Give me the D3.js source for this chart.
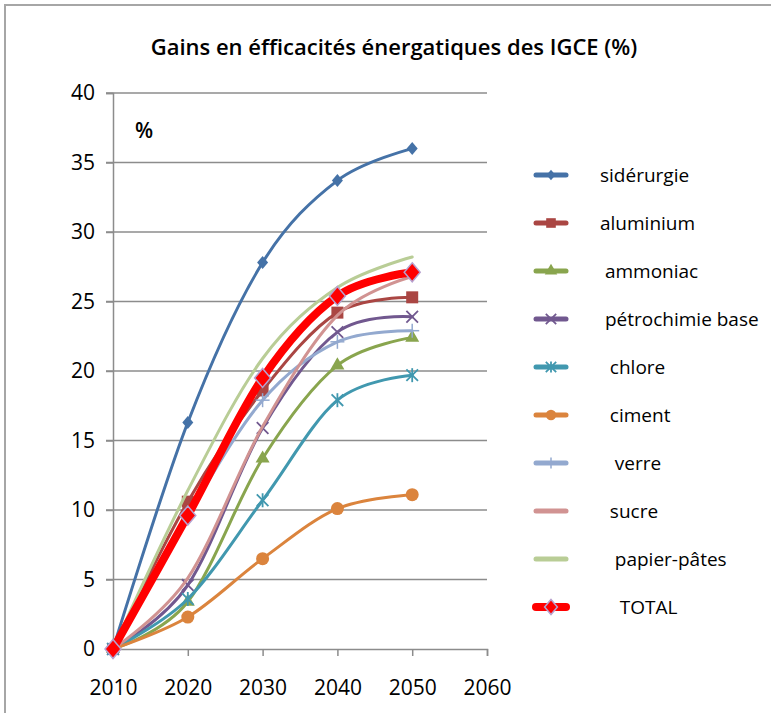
<!DOCTYPE html>
<html>
<head>
<meta charset="utf-8">
<script src="https://cdnjs.cloudflare.com/ajax/libs/d3/7.8.5/d3.min.js"></script>
<style>
  body { margin: 0; background: #fff; }
  svg text { font-family: "Open Sans", "Liberation Sans", sans-serif; fill: #000; }
</style>
</head>
<body>
<svg id="chart" width="771" height="713"></svg>
<script>
// data
var years = [2010, 2020, 2030, 2040, 2050];
var xTicks = [2010, 2020, 2030, 2040, 2050, 2060];
var yTicks = [0, 5, 10, 15, 20, 25, 30, 35, 40];

var siderurgie = [0, 16.3, 27.8, 33.7, 36.0];
var aluminium  = [0, 10.6, 18.6, 24.2, 25.3];
var ammoniac   = [0, 3.4, 13.7, 20.4, 22.4];
var petrochimie = [0, 4.6, 15.9, 22.8, 23.9];
var chlore     = [0, 3.6, 10.7, 17.9, 19.7];
var ciment     = [0, 2.3, 6.5, 10.1, 11.1];
var verre      = [0, 9.6, 17.9, 22.1, 22.9];
var sucre      = [0, 5.1, 16.0, 24.0, 26.8];
var papier     = [0, 11.4, 20.9, 26.0, 28.2];
var total      = [0, 9.6, 19.5, 25.4, 27.1];

var series = [
    {name: "sidérurgie", label: "sidérurgie", values: siderurgie, color: "#4572A7", marker: "diamond", w: 3},
    {name: "aluminium", label: "aluminium", values: aluminium, color: "#AA4643", marker: "square", w: 3},
    {name: "ammoniac", label: " ammoniac", values: ammoniac, color: "#89A54E", marker: "triangle", w: 3},
    {name: "petro", label: " pétrochimie base", values: petrochimie, color: "#71588F", marker: "x", w: 3},
    {name: "chlore", label: "  chlore", values: chlore, color: "#4198AF", marker: "star", w: 3},
    {name: "ciment", label: "  ciment", values: ciment, color: "#DB843D", marker: "circle", w: 3},
    {name: "verre", label: "   verre", values: verre, color: "#93A9CF", marker: "plus", w: 3},
    {name: "sucre", label: "  sucre", values: sucre, color: "#D19392", marker: "none", w: 3},
    {name: "papier", label: "   papier-pâtes", values: papier, color: "#B9CD96", marker: "none", w: 3},
    {name: "total", label: "    TOTAL", values: total, color: "#FF0000", marker: "bigdiamond", w: 8}
];

var svg = d3.select("#chart");

// outer frame
svg.append("rect")
    .attr("x", 5).attr("y", 5).attr("width", 900).attr("height", 900)
    .attr("fill", "none").attr("stroke", "#a6a6a6").attr("stroke-width", 2);

svg.append("text")
    .attr("x", 394).attr("y", 55)
    .attr("text-anchor", "middle")
    .style("font-size", "22px")
    .style("font-weight", "600")
    .text("Gains en éfficacités énergatiques des IGCE (%)");

var x = d3.scaleLinear().domain([2010, 2060]).range([113, 487]),
    y = d3.scaleLinear().domain([0, 40]).range([649, 93]);

// grid
svg.append("g").selectAll("line")
    .data(yTicks.filter(function(d) { return d > 0; }))
    .enter().append("line")
    .attr("x1", 106).attr("x2", 487)
    .attr("y1", function(d) { return y(d); })
    .attr("y2", function(d) { return y(d); })
    .attr("stroke", "#8c8c8c").attr("stroke-width", 1.5);

// axes
var yAxis = svg.append("g")
    .attr("transform", "translate(113,0)")
    .call(d3.axisLeft(y).tickValues(yTicks).tickSize(7).tickPadding(11));
var xAxis = svg.append("g")
    .attr("transform", "translate(0,649)")
    .call(d3.axisBottom(x).tickValues(xTicks).tickFormat(d3.format("d")).tickSize(7).tickPadding(24));
[yAxis, xAxis].forEach(function(a) {
    a.select(".domain").attr("stroke", "#8c8c8c").attr("stroke-width", 1.5);
    a.selectAll(".tick line").attr("stroke", "#8c8c8c").attr("stroke-width", 1.5);
    a.selectAll("text").style("font-size", "21px").attr("fill", "#000");
});

svg.append("text")
    .attr("x", 135).attr("y", 138)
    .style("font-size", "21px")
    .style("font-weight", "600")
    .text("%");

var line = d3.line()
    .x(function(d, i) { return x(years[i]); })
    .y(function(d) { return y(d); })
    .curve(d3.curveCardinal.tension(0));

function diamondPath(cx, cy, hw, hh) {
    return "M" + cx + "," + (cy - hh) + "L" + (cx + hw) + "," + cy +
        "L" + cx + "," + (cy + hh) + "L" + (cx - hw) + "," + cy + "Z";
}

function drawMarker(g, type, color, cx, cy, scale) {
    var s = scale || 1;
    if (type == "diamond") {
        g.append("path").attr("d", diamondPath(cx, cy, 5.5 * s, 6.5 * s))
            .attr("fill", color);
    } else if (type == "bigdiamond") {
        g.append("path").attr("d", diamondPath(cx, cy, 8 * s, 9.5 * s))
            .attr("fill", "#FF0000").attr("stroke", "#B7A2CF").attr("stroke-width", 1.5);
    } else if (type == "square") {
        g.append("rect").attr("x", cx - 6 * s).attr("y", cy - 6 * s)
            .attr("width", 12 * s).attr("height", 12 * s).attr("fill", color);
    } else if (type == "triangle") {
        g.append("path").attr("d", d3.symbol(d3.symbolTriangle, 85 * s)())
            .attr("transform", "translate(" + cx + "," + cy + ")")
            .attr("fill", color);
    } else if (type == "circle") {
        g.append("circle").attr("cx", cx).attr("cy", cy).attr("r", 6.5 * s).attr("fill", color);
    } else if (type == "x") {
        g.append("path").attr("d", d3.symbol(d3.symbolX, 90 * s)())
            .attr("transform", "translate(" + cx + "," + cy + ")")
            .attr("fill", "none").attr("stroke", color).attr("stroke-width", 1.8);
    } else if (type == "star") {
        g.append("path").attr("d", d3.symbol(d3.symbolX, 90 * s)())
            .attr("transform", "translate(" + cx + "," + cy + ")")
            .attr("fill", "none").attr("stroke", color).attr("stroke-width", 1.8);
        g.append("line").attr("x1", cx).attr("x2", cx)
            .attr("y1", cy - 7 * s).attr("y2", cy + 7 * s)
            .attr("stroke", color).attr("stroke-width", 1.8);
    } else if (type == "plus") {
        g.append("line").attr("x1", cx).attr("x2", cx)
            .attr("y1", cy - 7 * s).attr("y2", cy + 7 * s)
            .attr("stroke", color).attr("stroke-width", 1.5);
        g.append("line").attr("x1", cx - 7 * s).attr("x2", cx + 7 * s)
            .attr("y1", cy).attr("y2", cy)
            .attr("stroke", color).attr("stroke-width", 1.5);
    }
}

var plot = svg.append("g");
series.forEach(function(s) {
    var g = plot.append("g").attr("class", "series " + s.name);
    g.append("path")
        .datum(s.values)
        .attr("d", line)
        .attr("fill", "none")
        .attr("stroke", s.color)
        .attr("stroke-width", s.w)
        .attr("stroke-linecap", "round");
    s.values.forEach(function(v, i) {
        drawMarker(g, s.marker, s.color, x(years[i]), y(v));
    });
});

// legend
var legend = svg.append("g");
series.forEach(function(s, i) {
    var ly = 175 + i * 48;
    var g = legend.append("g");
    g.append("line")
        .attr("x1", 536).attr("x2", 566)
        .attr("y1", ly).attr("y2", ly)
        .attr("stroke", s.color).attr("stroke-width", s.name == "total" ? 8 : 5)
        .attr("stroke-linecap", "round");
    drawMarker(g, s.marker, s.color, 551, ly, 0.8);
    g.append("text")
        .attr("x", 600).attr("y", ly + 7)
        .attr("xml:space", "preserve")
        .style("white-space", "pre")
        .style("font-size", "19px")
        .text(s.label);
});
</script>
</body>
</html>
